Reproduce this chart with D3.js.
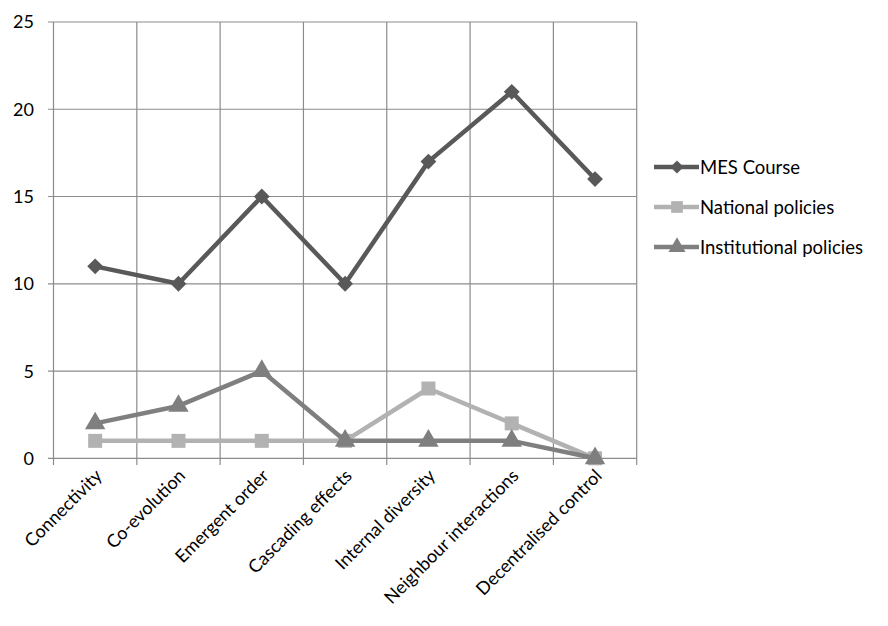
<!DOCTYPE html>
<html><head><meta charset="utf-8">
<script src="https://cdn.jsdelivr.net/npm/d3@7"></script>
<style>body{margin:0;background:#fff}svg{display:block}</style>
</head><body>
<script>
const categories = ["Connectivity","Co-evolution","Emergent order","Cascading effects","Internal diversity","Neighbour interactions","Decentralised control"];
const mesCourse = [11,10,15,10,17,21,16];
const nationalPolicies = [1,1,1,1,4,2,0];
const institutionalPolicies = [2,3,5,1,1,1,0];
const yTicks = [0,5,10,15,20,25];
const seriesNames = ["MES Course","National policies","Institutional policies"];

const series = [
  {name: seriesNames[0], values: mesCourse, color: "#595959", symbol: d3.symbolSquare, size: 125, rot: 45},
  {name: seriesNames[1], values: nationalPolicies, color: "#b2b2b2", symbol: d3.symbolSquare, size: 196, rot: 0},
  {name: seriesNames[2], values: institutionalPolicies, color: "#7f7f7f", symbol: d3.symbolTriangle, size: 180, rot: 0}
];

const W = 888, H = 626;
const svg = d3.select("body").append("svg").attr("width", W).attr("height", H);
const font = "Lato, 'Open Sans', sans-serif";

const x = d3.scaleBand().domain(categories).range([53.5, 636.7]);
const y = d3.scaleLinear().domain([0,25]).range([458.3, 22]);

// grid
const g = svg.append("g");
g.selectAll(".hg").data(yTicks).join("line")
  .attr("x1", 48).attr("x2", 636.7)
  .attr("y1", d => y(d)).attr("y2", d => y(d))
  .attr("stroke", "#8c8c8c").attr("stroke-width", 1.2);
const vlines = categories.map(c => x(c)).concat([x.range()[1]]);
g.selectAll(".vg").data(vlines).join("line")
  .attr("x1", d => d).attr("x2", d => d)
  .attr("y1", y(25)).attr("y2", 465)
  .attr("stroke", "#8c8c8c").attr("stroke-width", 1.2);

// y labels
svg.selectAll(".yl").data(yTicks).join("text")
  .attr("x", 34).attr("y", d => y(d)).attr("dy", "0.36em")
  .attr("text-anchor", "end").attr("font-family", font).attr("font-size", 18)
  .attr("fill", "#000").text(d => d);

// x labels
svg.selectAll(".xl").data(categories).join("text")
  .attr("transform", d => `translate(${x(d) + x.bandwidth()/2 + 8},${477}) rotate(-45)`)
  .attr("text-anchor", "end").attr("font-family", font).attr("font-size", 18)
  .attr("fill", "#000").text(d => d);

const cx = c => x(c) + x.bandwidth()/2;
const line = d3.line().x((d,i) => cx(categories[i])).y(d => y(d));

series.forEach(s => {
  svg.append("path").datum(s.values).attr("d", line)
    .attr("fill", "none").attr("stroke", s.color).attr("stroke-width", 4.5)
    .attr("stroke-linejoin", "round");
  svg.selectAll(null).data(s.values).join("path")
    .attr("transform", (d,i) => `translate(${cx(categories[i])},${y(d)}) rotate(${s.rot})`)
    .attr("d", d3.symbol().type(s.symbol).size(s.size))
    .attr("fill", s.color);
});

// legend
const legY = [167, 207, 247];
series.forEach((s, i) => {
  const lg = svg.append("g").attr("transform", `translate(654,${legY[i]})`);
  lg.append("line").attr("x1", 0).attr("x2", 45).attr("stroke", s.color).attr("stroke-width", 4.5);
  lg.append("path").attr("transform", `translate(23,0) rotate(${s.rot})`)
    .attr("d", d3.symbol().type(s.symbol).size(s.size*0.7)).attr("fill", s.color);
  lg.append("text").attr("x", 46).attr("dy", "0.36em")
    .attr("font-family", font).attr("font-size", 18.5).attr("fill", "#000").text(s.name);
});
</script>
</body></html>
